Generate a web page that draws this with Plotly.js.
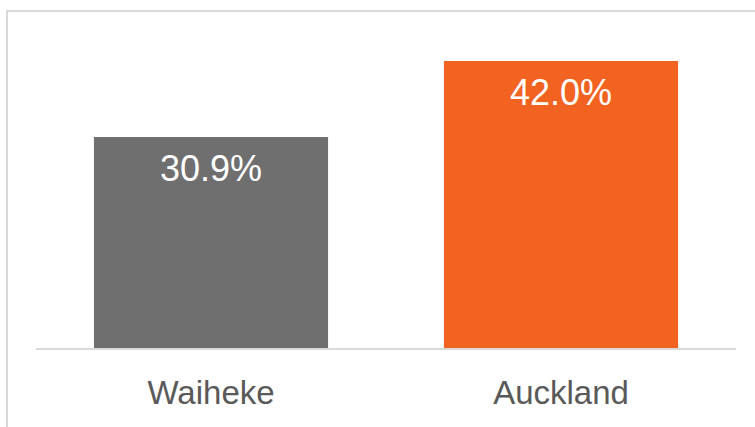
<!DOCTYPE html>
<html><head><meta charset="utf-8">
<script src="https://cdn.plot.ly/plotly-3.0.1.min.js"></script>
<style>
body{margin:0;background:#fff;}
#frame{position:absolute;left:6px;top:10px;width:749px;height:417px;border-left:2px solid #d9d9d9;border-top:2px solid #d9d9d9;box-sizing:border-box;}
#chart{position:absolute;left:0;top:0;width:755px;height:427px;}
</style></head>
<body>
<div id="frame"></div>
<div id="chart"></div>
<script>
const categories = ["Waiheke", "Auckland"];
const values = [30.9, 42.0];
const labels = ["30.9%", "42.0%"];
const colors = ["#6f6f70", "#f26322"];

const trace = {
  type: "bar",
  x: categories,
  y: values,
  marker: {color: colors},
  hoverinfo: "none"
};

const annotations = categories.map((c, i) => ({
  x: c, y: values[i], xref: "x", yref: "y",
  text: labels[i], showarrow: false, yanchor: "top", yshift: -9,
  font: {family: "Liberation Sans, Arial, sans-serif", size: 36, color: "#ffffff"}
}));

const layout = {
  width: 755, height: 427,
  margin: {l: 36, r: 19, t: 45, b: 79},
  paper_bgcolor: "rgba(0,0,0,0)",
  plot_bgcolor: "rgba(0,0,0,0)",
  bargap: 0.331,
  showlegend: false,
  xaxis: {
    showline: true, linecolor: "#d9d9d9", linewidth: 2,
    ticks: "", showgrid: false, zeroline: false,
    tickfont: {family: "Liberation Sans, Arial, sans-serif", size: 33, color: "#595959"},
    ticklabelstandoff: 14
  },
  yaxis: {
    range: [0, 44.36], visible: false, showgrid: false, zeroline: false, fixedrange: true
  },
  annotations: annotations
};

Plotly.newPlot("chart", [trace], layout, {displayModeBar: false, staticPlot: true});
</script>
</body></html>
